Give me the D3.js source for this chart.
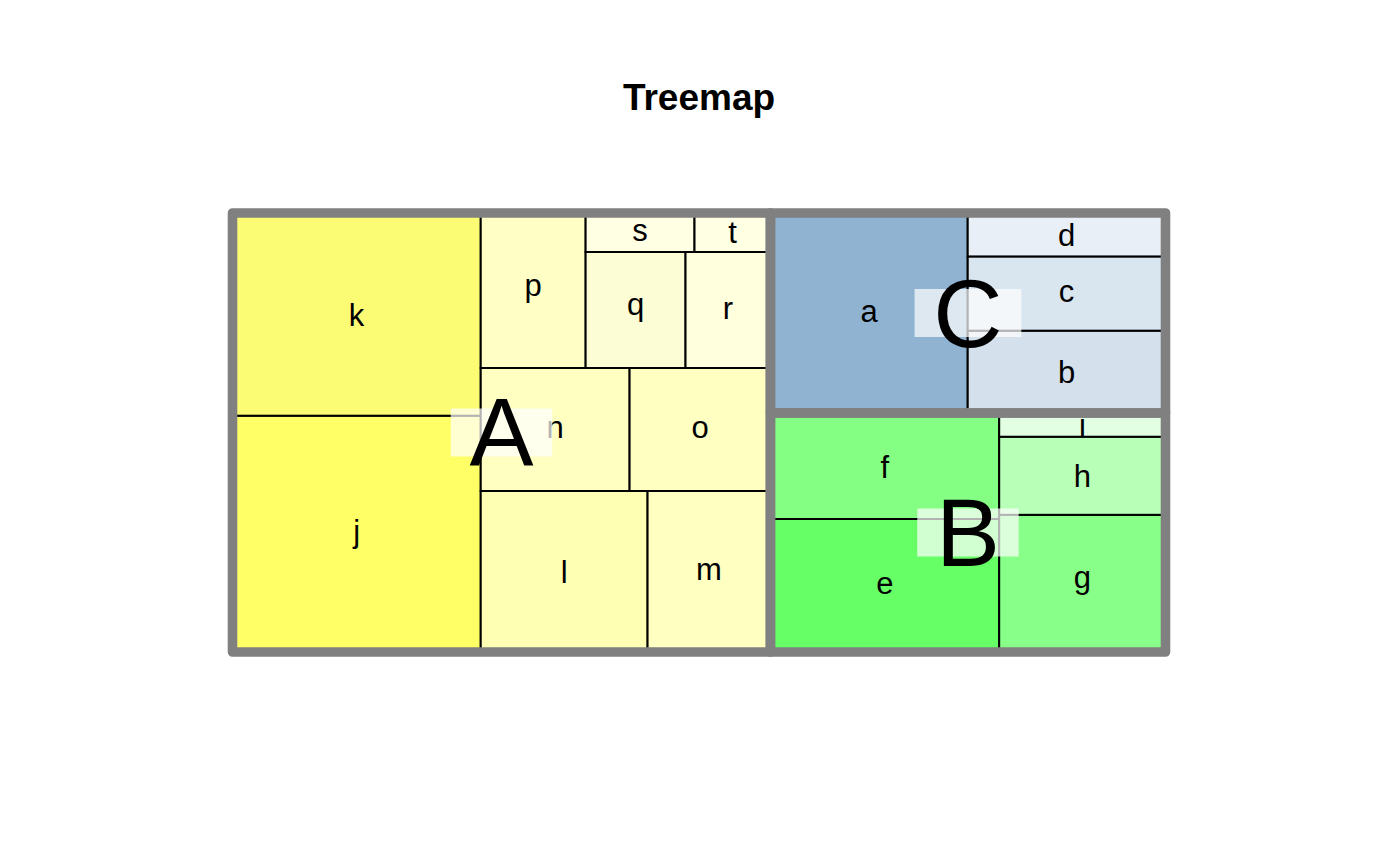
<!DOCTYPE html>
<html><head><meta charset="utf-8">
<script src="https://cdn.jsdelivr.net/npm/d3@7"></script>
<style>body{margin:0;background:#fff;} svg{display:block;}</style>
</head><body>
<svg id="chart" width="1400" height="866"></svg>
<script>
// ---------- data ----------
const titleText = "Treemap";
const groupNames = ["A", "B", "C"];
const leafNames  = ["a","b","c","d","e","f","g","h","i","j","k","l","m","n","o","p","q","r","s","t"];
const leafGroups = ["C","C","C","C","B","B","B","B","B","A","A","A","A","A","A","A","A","A","A","A"];
const leafValues = [39500,16300,14700,8600, 30457,24274,22839,13000,3950,
                    58721,50371,26887,19803,18327,17343,16275,11600,9860,4251,2964];
const leafColors = ["#8FB3D0","#D4E1EC","#D9E5EF","#E8EFF7",
                    "#66FF66","#84FF84","#88FF88","#B8FFB8","#E3FFE3",
                    "#FFFF66","#FCFC74","#FFFFB4","#FFFFC1","#FFFFC1","#FFFFC1","#FFFFC5","#FDFDD5","#FFFFDD","#FFFFE3","#FFFFE3"];

// ---------- setup ----------
const FONT = '"Liberation Sans", Arial, Helvetica, sans-serif';
const svg = d3.select("#chart");
const area = {x0: 232.5, y0: 213, x1: 1165.5, y1: 652};
const leafFont = 31, groupFont = 96;

const ctx = document.createElement("canvas").getContext("2d");
function measure(text, size, weight) {
  ctx.font = (weight || "normal") + " " + size + "px " + FONT;
  const m = ctx.measureText(text);
  return {w: m.width, asc: m.actualBoundingBoxAscent, desc: m.actualBoundingBoxDescent};
}

// ---------- pivot-by-size tiling (as in R treemap) ----------
function aspect(w, h) { const r = w / h; return r > 1 ? r : 1 / r; }
function place(it, x, y, w, h) { it.nx = x; it.ny = y; it.nw = w; it.nh = h; }
function pivotLayout(items, x, y, w, h) {
  if (!items.length) return;
  if (items.length === 1) { place(items[0], x, y, w, h); return; }
  const total = d3.sum(items, d => d.value);
  const P = items[0], rest = items.slice(1);
  let best = null;
  for (let k = 0; k <= rest.length; k++) {
    const s2 = d3.sum(rest.slice(0, k), d => d.value);
    const frac = (P.value + s2) / total;
    let score;
    if (w >= h) {
      const cw = w * frac, ph = h * P.value / (P.value + s2);
      score = aspect(cw, ph);
      if (k > 0) score = Math.max(score, aspect(cw, h - ph));
    } else {
      const rh = h * frac, pw = w * P.value / (P.value + s2);
      score = aspect(pw, rh);
      if (k > 0) score = Math.max(score, aspect(w - pw, rh));
    }
    if (!best || score < best.score - 1e-12) best = {k, score};
  }
  const L2 = rest.slice(0, best.k), L3 = rest.slice(best.k);
  const s2 = d3.sum(L2, d => d.value);
  const frac = (P.value + s2) / total;
  if (w >= h) {
    const cw = w * frac, ph = h * P.value / (P.value + s2);
    place(P, x, y + h - ph, cw, ph);
    pivotLayout(L2, x, y, cw, h - ph);
    pivotLayout(L3, x + cw, y, w - cw, h);
  } else {
    const rh = h * frac, pw = w * P.value / (P.value + s2);
    place(P, x, y + h - rh, pw, rh);
    pivotLayout(L2, x + pw, y + h - rh, w - pw, rh);
    pivotLayout(L3, x, y, w, h - rh);
  }
}
function pivotTile(parent, x0, y0, x1, y1) {
  const items = parent.children.map(c => ({node: c, value: c.value}))
    .sort((a, b) => b.value - a.value);
  pivotLayout(items, 0, 0, 1, 1);
  const W = x1 - x0, H = y1 - y0;
  items.forEach(it => {
    it.node.x0 = x0 + it.nx * W; it.node.x1 = x0 + (it.nx + it.nw) * W;
    it.node.y0 = y0 + it.ny * H; it.node.y1 = y0 + (it.ny + it.nh) * H;
  });
}

// ---------- hierarchy ----------
const leaves = leafNames.map((n, i) => ({name: n, group: leafGroups[i], value: leafValues[i], color: leafColors[i]}));
const treeData = {name: "root", children: groupNames.map(g => ({name: g, children: leaves.filter(l => l.group === g)}))};
const root = d3.hierarchy(treeData).sum(d => d.children ? 0 : d.value).sort((a, b) => b.value - a.value);
d3.treemap().tile(pivotTile).size([area.x1 - area.x0, area.y1 - area.y0]).paddingInner(0).paddingOuter(0).round(false)(root);

const g = svg.append("g").attr("transform", `translate(${area.x0},${area.y0})`);
const leafNodes = root.leaves();
const groupNodes = root.children;

// leaf rectangles
g.selectAll("rect.leaf").data(leafNodes).join("rect").attr("class", "leaf")
  .attr("x", d => d.x0).attr("y", d => d.y0)
  .attr("width", d => d.x1 - d.x0).attr("height", d => d.y1 - d.y0)
  .attr("fill", d => d.data.color).attr("stroke", "#000").attr("stroke-width", 2);

// leaf labels (ink-centred)
g.selectAll("text.leaf").data(leafNodes).join("text").attr("class", "leaf")
  .attr("x", d => (d.x0 + d.x1) / 2)
  .attr("y", d => { const m = measure(d.data.name, leafFont); return (d.y0 + d.y1) / 2 + (m.asc - m.desc) / 2; })
  .attr("text-anchor", "middle").attr("font-family", FONT).attr("font-size", leafFont)
  .attr("fill", "#000").text(d => d.data.name);

// group borders
g.selectAll("rect.group").data(groupNodes).join("rect").attr("class", "group")
  .attr("x", d => d.x0).attr("y", d => d.y0)
  .attr("width", d => d.x1 - d.x0).attr("height", d => d.y1 - d.y0)
  .attr("fill", "none").attr("stroke", "#808080").attr("stroke-width", 9.6)
  .attr("stroke-linejoin", "round");

// group labels with translucent boxes
groupNodes.forEach(d => {
  const cx = (d.x0 + d.x1) / 2, cy = (d.y0 + d.y1) / 2;
  const m = measure(d.data.name, groupFont);
  const bw = m.w + 0.39 * groupFont, bh = 0.5 * groupFont;
  g.append("rect").attr("x", cx - bw / 2).attr("y", cy - bh / 2).attr("width", bw).attr("height", bh)
    .attr("fill", "#ffffff").attr("fill-opacity", 0.7);
  g.append("text").attr("x", cx).attr("y", cy + (m.asc - m.desc) / 2)
    .attr("text-anchor", "middle").attr("font-family", FONT).attr("font-size", groupFont)
    .attr("fill", "#000").text(d.data.name);
});

// title
svg.append("text").attr("x", 699).attr("y", 110).attr("text-anchor", "middle")
  .attr("font-family", FONT).attr("font-size", 37).attr("font-weight", "bold")
  .attr("fill", "#000").text(titleText);
</script>
</body></html>
